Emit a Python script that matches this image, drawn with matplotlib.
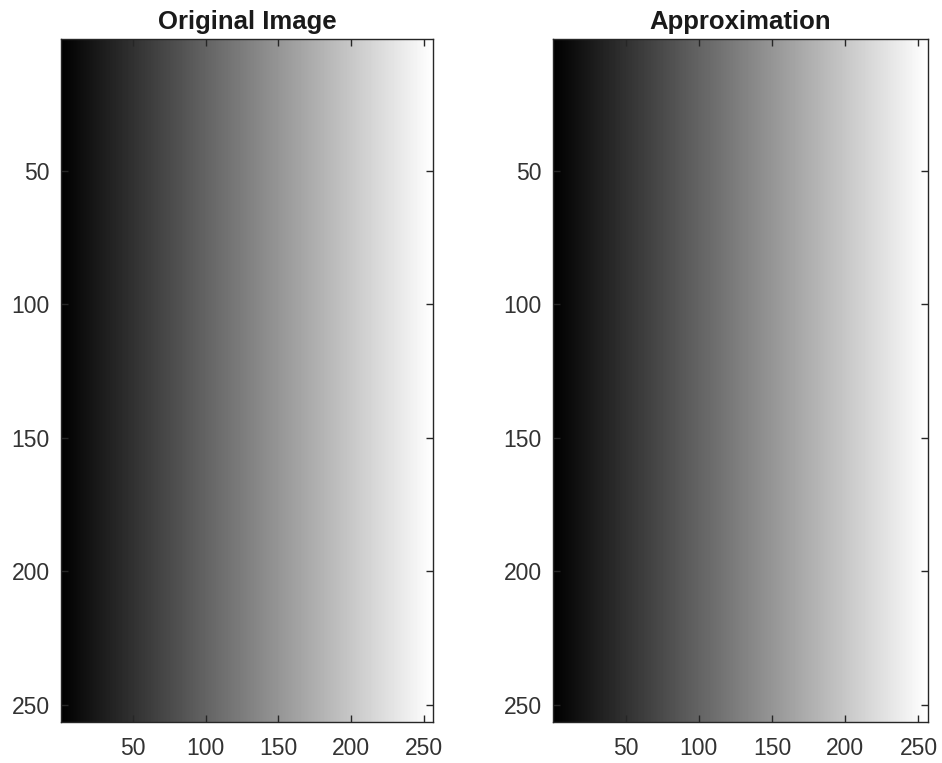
import numpy as np
import matplotlib
matplotlib.use("Agg")
import matplotlib.pyplot as plt

plt.rcParams['font.family'] = ['Liberation Sans', 'DejaVu Sans']

# image data: 256x256 horizontal ramp (column intensity 0..255)
col_values = np.arange(256)
n_rows = 256
original = np.tile(col_values, (n_rows, 1))
approx = np.tile(col_values, (n_rows, 1))

titles = ['Original Image', 'Approximation']
ticks = [50, 100, 150, 200, 250]

fig = plt.figure(figsize=(9.42, 7.63), dpi=100)
positions = [[61 / 942, 41 / 763, 372 / 942, 683 / 763],
             [553 / 942, 41 / 763, 375 / 942, 683 / 763]]

for img, title, pos in zip([original, approx], titles, positions):
    ax = fig.add_axes(pos)
    ax.imshow(img, cmap='gray', vmin=0, vmax=255, aspect='auto',
              extent=(0.5, 256.5, 256.5, 0.5), interpolation='nearest')
    ax.set_xticks(ticks)
    ax.set_yticks(ticks)
    ax.tick_params(direction='in', length=5, width=1, color='#262626',
                   labelcolor='#333333', labelsize=16.5, top=True, right=True)
    ax.tick_params(axis='x', pad=11)
    ax.tick_params(axis='y', pad=8)
    for s in ax.spines.values():
        s.set_color('#262626')
        s.set_linewidth(1)
    ax.set_title(title, fontsize=18.5, fontweight='bold', color='#1a1a1a', pad=7)

fig.savefig('out.png', dpi=100)
